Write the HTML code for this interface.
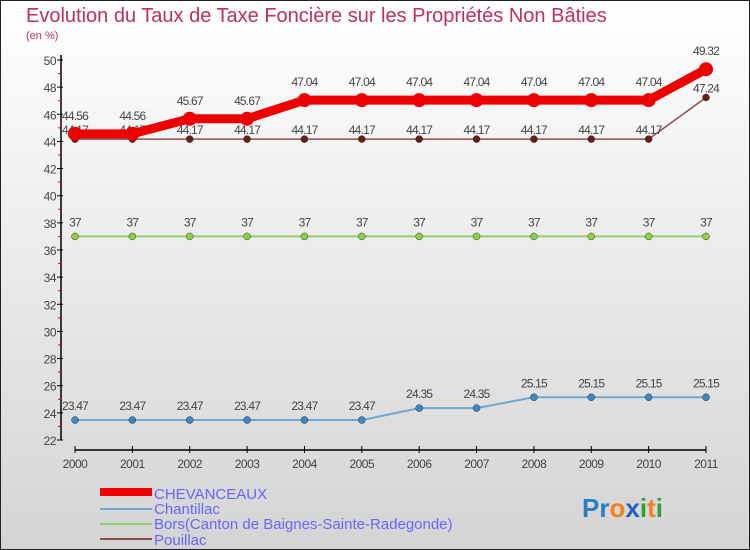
<!DOCTYPE html>
<html><head><meta charset="utf-8"><style>
body{margin:0}
svg{display:block;font-family:"Liberation Sans",sans-serif}
</style></head><body>
<svg width="750" height="550" viewBox="0 0 750 550" xmlns="http://www.w3.org/2000/svg">
<defs><linearGradient id="bg" x1="0" y1="0" x2="0" y2="1"><stop offset="0" stop-color="#ffffff"/><stop offset="1" stop-color="#d4d4d4"/></linearGradient></defs>
<rect x="0.5" y="0.5" width="749" height="549" fill="url(#bg)" stroke="#222"/>
<text x="26" y="22" font-size="20" fill="#c0305a">Evolution du Taux de Taxe Foncière sur les Propriétés Non Bâties</text>
<text x="26" y="39" font-size="11" fill="#c0306a">(en %)</text>
<g id="axes"></g>
<g id="series"></g>
<g>
<rect x="100" y="488" width="52" height="8" fill="#e00"/>
<text x="154" y="499" font-size="15" fill="#6666ff">CHEVANCEAUX</text>
<line x1="100" y1="509" x2="152" y2="509" stroke="#6fa8d0" stroke-width="2"/>
<text x="154" y="514" font-size="15" fill="#6666ff">Chantillac</text>
<line x1="100" y1="524" x2="152" y2="524" stroke="#8fd070" stroke-width="2"/>
<text x="154" y="529" font-size="15" fill="#6666ff">Bors(Canton de Baignes-Sainte-Radegonde)</text>
<line x1="100" y1="539" x2="152" y2="539" stroke="#8a5050" stroke-width="2"/>
<text x="154" y="545" font-size="15" fill="#6666ff">Pouillac</text>
</g>
<text x="582" y="517" font-size="26" font-weight="bold"><tspan fill="#2a7fc0">Pr</tspan><tspan fill="#f08020">o</tspan><tspan fill="#2060c0">x</tspan><tspan fill="#30a030">i</tspan><tspan fill="#f08020">t</tspan><tspan fill="#30a030">i</tspan></text>
</svg>
<script>
const years=["2000","2001","2002","2003","2004","2005","2006","2007","2008","2009","2010","2011"];
const yTicks=[22,24,26,28,30,32,34,36,38,40,42,44,46,48,50];
const chevanceaux=[44.56,44.56,45.67,45.67,47.04,47.04,47.04,47.04,47.04,47.04,47.04,49.32];
const chantillac=[23.47,23.47,23.47,23.47,23.47,23.47,24.35,24.35,25.15,25.15,25.15,25.15];
const bors=[37,37,37,37,37,37,37,37,37,37,37,37];
const pouillac=[44.17,44.17,44.17,44.17,44.17,44.17,44.17,44.17,44.17,44.17,44.17,47.24];
const NS="http://www.w3.org/2000/svg";
const X=i=>75+i*(706-75)/11;
const Y=v=>60+(50-v)*(440-60)/28;
function mk(tag,attrs,parent){const e=document.createElementNS(NS,tag);for(const k in attrs)e.setAttribute(k,attrs[k]);parent.appendChild(e);return e;}
const ax=document.getElementById('axes');
let l=mk('line',{x1:61,y1:55,x2:61,y2:440,stroke:'#000','stroke-width':1.5},ax);


l=mk('line',{x1:75,y1:450,x2:706,y2:450,stroke:'#000','stroke-width':1.5},ax);


yTicks.forEach(v=>{
 mk('line',{x1:57,y1:Y(v),x2:63,y2:Y(v),stroke:'#000'},ax);
 if(v<50)mk('line',{x1:58,y1:Y(v+1),x2:61,y2:Y(v+1),stroke:'#e00'},ax);
 const t=mk('text',{x:56,y:Y(v)+5,'font-size':12,'text-anchor':'end',fill:'#444','letter-spacing':'-0.5'},ax);
 t.textContent=v;
 
 
});
years.forEach((y,i)=>{
 mk('line',{x1:X(i),y1:446,x2:X(i),y2:453,stroke:'#000'},ax);
 const t=mk('text',{x:X(i),y:468,'font-size':12,'text-anchor':'middle',fill:'#444','letter-spacing':'-0.5'},ax);
 t.textContent=y;
 
 
});
const sg=document.getElementById('series');
function draw(name,data,color,w,r,dot,labelDy){
 const g=mk('g',{},sg);
 
 
 const p=mk('polyline',{points:data.map((v,i)=>X(i)+','+Y(v)).join(' '),fill:'none',stroke:color,'stroke-width':w,'stroke-linejoin':'round'},g);
 
 
 data.forEach((v,i)=>{
  const c=mk('circle',{cx:X(i),cy:Y(v),r:r,fill:dot,stroke:w>4?'none':'#333','stroke-width':0.5},g);
  
  
  const t=mk('text',{x:X(i),y:Y(v)+labelDy,'font-size':12,'text-anchor':'middle',fill:'#444','letter-spacing':'-0.8'},g);
  t.textContent=String(v);
  
  
 });
}
draw('pouillac',pouillac,'#8a5050',1.5,3.5,'#6a1a1a',-5);
draw('bors',bors,'#8fd070',2,3.5,'#8fd040',-10);
draw('chantillac',chantillac,'#6fa8d0',2,3.5,'#3a88c8',-10);
draw('chevanceaux',chevanceaux,'#ee0000',9,7,'#ee0000',-14);
</script>
</body></html>
